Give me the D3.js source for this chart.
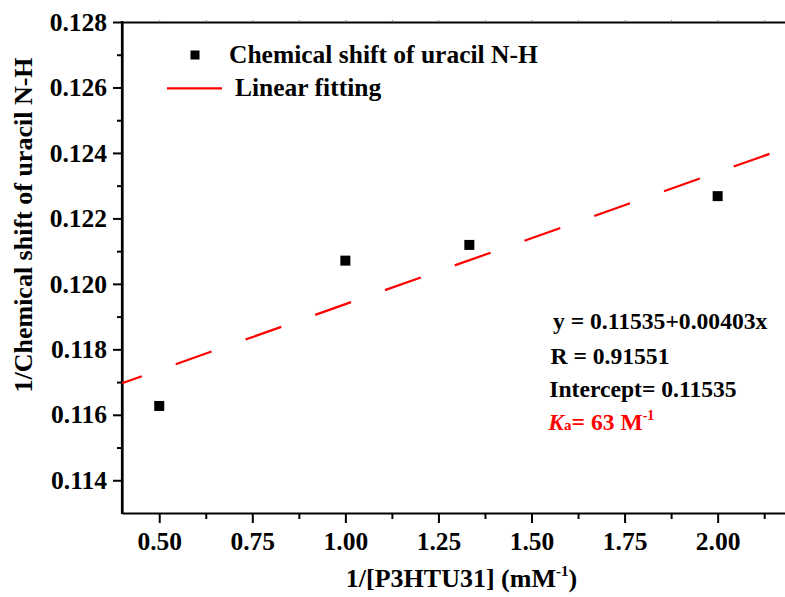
<!DOCTYPE html>
<html>
<head>
<meta charset="utf-8">
<script src="https://cdn.jsdelivr.net/npm/d3@7/dist/d3.min.js"></script>
<style>
  html, body { margin: 0; padding: 0; background: #fff; }
  svg { display: block; }
  text { font-family: "Liberation Serif", "Times New Roman", serif; font-weight: bold; }
</style>
</head>
<body>
<div id="chart"></div>
<script>
// ---- data ----
const xValues = [0.5, 1.0, 1.333, 2.0];
const yValues = [0.11627, 0.12071, 0.12119, 0.12268];
const fitIntercept = 0.11535;
const fitSlope = 0.00403;
const fitXRange = [0.4, 2.15];
const xTickValues = [0.50, 0.75, 1.00, 1.25, 1.50, 1.75, 2.00];
const xMinorTicks = [0.625, 0.875, 1.125, 1.375, 1.625, 1.875, 2.125];
const yTickValues = [0.114, 0.116, 0.118, 0.120, 0.122, 0.124, 0.126, 0.128];
const yMinorTicks = [0.115, 0.117, 0.119, 0.121, 0.123, 0.125, 0.127];
const legendLabels = ["Chemical shift of uracil N-H", "Linear fitting"];
const annotationLines = ["y = 0.11535+0.00403x", "R = 0.91551", "Intercept= 0.11535"];
const xTitle = "1/[P3HTU31] (mM";
const yTitle = "1/Chemical shift of uracil N-H";

// ---- layout ----
const W = 785, H = 597;
const mLeft = 122, mTop = 22, mBottom = 513;
const pxPerQuarter = 93.07;
const xDomain = [0.4, 2.2];
const mRight = mLeft + (xDomain[1] - xDomain[0]) / 0.25 * pxPerQuarter;

const svg = d3.select("#chart").append("svg").attr("width", W).attr("height", H);

const x = d3.scaleLinear().domain(xDomain).range([mLeft, mRight]);
const y = d3.scaleLinear().domain([0.113, 0.128]).range([mBottom, mTop]);

// minor ticks
svg.append("g").attr("transform", `translate(0,${mBottom})`)
  .call(d3.axisBottom(x).tickValues(xMinorTicks).tickSize(6).tickFormat(""))
  .call(g => g.select(".domain").remove())
  .call(g => g.selectAll("line").attr("stroke-width", 2));
svg.append("g").attr("transform", `translate(${mLeft},0)`)
  .call(d3.axisLeft(y).tickValues(yMinorTicks).tickSize(5).tickFormat(""))
  .call(g => g.select(".domain").remove())
  .call(g => g.selectAll("line").attr("stroke-width", 2));

// major axes
const xAxis = svg.append("g").attr("transform", `translate(0,${mBottom})`)
  .call(d3.axisBottom(x).tickValues(xTickValues).tickSize(10).tickPadding(9).tickSizeOuter(0)
        .tickFormat(d3.format(".2f")));
xAxis.selectAll("text").attr("font-size", 25.5).attr("fill", "#000")
  .attr("font-family", "Liberation Serif").attr("font-weight", "bold");

const yAxis = svg.append("g").attr("transform", `translate(${mLeft},0)`)
  .call(d3.axisLeft(y).tickValues(yTickValues).tickSize(9).tickPadding(6).tickSizeOuter(0)
        .tickFormat(d3.format(".3f")));
yAxis.selectAll("text").attr("font-size", 25.5).attr("fill", "#000")
  .attr("font-family", "Liberation Serif").attr("font-weight", "bold");

[xAxis, yAxis].forEach(g => {
  g.selectAll("line").attr("stroke-width", 2);
  g.select(".domain").attr("stroke-width", 2.2);
});

// top frame line with tiny ticks
const topAxis = svg.append("g").attr("transform", `translate(0,${mTop})`)
  .call(d3.axisTop(x).tickValues(xTickValues.concat(xMinorTicks)).tickSize(2).tickFormat("").tickSizeOuter(0));
topAxis.select(".domain").attr("stroke-width", 2.2);
topAxis.selectAll("line").attr("stroke", "#888").attr("stroke-width", 1);
svg.append("line").attr("x1", mLeft).attr("x2", mLeft).attr("y1", mTop - 1).attr("y2", mBottom + 1)
  .attr("stroke", "#000").attr("stroke-width", 2.2);

// fit line
const fitData = fitXRange.map(v => [v, fitIntercept + fitSlope * v]);
svg.append("path")
  .datum(fitData)
  .attr("d", d3.line().x(d => x(d[0])).y(d => y(d[1])))
  .attr("fill", "none")
  .attr("stroke", "#ff0000")
  .attr("stroke-width", 2.2)
  .attr("stroke-dasharray", "38 36")
  .attr("stroke-dashoffset", 17);

// points
const ms = 10;
svg.append("g").selectAll("rect")
  .data(xValues.map((v, i) => [v, yValues[i]]))
  .join("rect")
  .attr("x", d => x(d[0]) - ms / 2)
  .attr("y", d => y(d[1]) - ms / 2)
  .attr("width", ms).attr("height", ms)
  .attr("fill", "#000");

// legend
svg.append("rect").attr("x", 195 - 4.5).attr("y", 55 - 4.5).attr("width", 9).attr("height", 9).attr("fill", "#000");
svg.append("text").attr("x", 229).attr("y", 63).attr("font-size", 25.5).text(legendLabels[0]);
svg.append("line").attr("x1", 167).attr("x2", 222).attr("y1", 88.3).attr("y2", 88.3)
  .attr("stroke", "#ff0000").attr("stroke-width", 2.2);
svg.append("text").attr("x", 235).attr("y", 96).attr("font-size", 25.5).text(legendLabels[1]);

// annotation
const annX = [553, 550.5, 549.3];
const annY = [329, 364.3, 396.7];
annotationLines.forEach((t, i) => {
  svg.append("text").attr("x", annX[i]).attr("y", annY[i]).attr("font-size", 23.6).text(t);
});
const ka = svg.append("text").attr("x", 548.3).attr("y", 430).attr("font-size", 23.6).attr("fill", "#ff0000");
ka.append("tspan").attr("font-style", "italic").text("K");
ka.append("tspan").attr("font-size", 15).text("a");
ka.append("tspan").text("= 63 M");
ka.append("tspan").attr("font-size", 14).attr("dy", -10).text("-1");

// axis titles
const xt = svg.append("text").attr("x", 461.5).attr("y", 587).attr("text-anchor", "middle").attr("font-size", 26);
xt.append("tspan").text(xTitle);
xt.append("tspan").attr("font-size", 15).attr("dy", -11).text("-1");
xt.append("tspan").attr("dy", 11).text(")");

svg.append("text")
  .attr("transform", `translate(32,225) rotate(-90)`)
  .attr("text-anchor", "middle").attr("font-size", 26)
  .text(yTitle);
</script>
</body>
</html>
